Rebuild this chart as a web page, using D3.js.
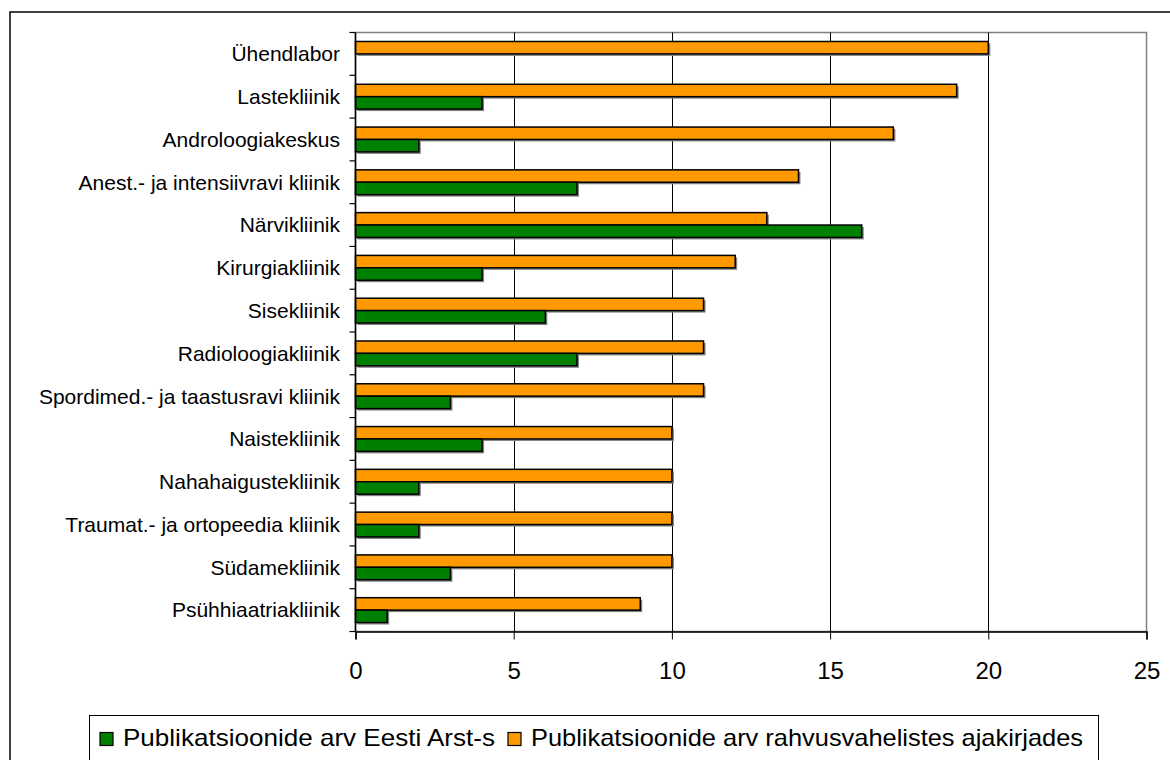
<!DOCTYPE html>
<html><head><meta charset="utf-8">
<script src="https://cdn.jsdelivr.net/npm/d3@7"></script>
<style>body{margin:0;background:#fff}svg{display:block;font-family:"Liberation Sans",Arial,sans-serif}</style>
</head><body>
<svg id="c" width="1170" height="760"></svg>
<script>
const categories = ["Ühendlabor","Lastekliinik","Androloogiakeskus","Anest.- ja intensiivravi kliinik","Närvikliinik","Kirurgiakliinik","Sisekliinik","Radioloogiakliinik","Spordimed.- ja taastusravi kliinik","Naistekliinik","Nahahaigustekliinik","Traumat.- ja ortopeedia kliinik","Südamekliinik","Psühhiaatriakliinik"];
const seriesNames = ["Publikatsioonide arv Eesti Arst-s","Publikatsioonide arv rahvusvahelistes ajakirjades"];
const eestiArst = [0,4,2,7,16,4,6,7,3,4,2,2,3,1];
const rahvusvaheline = [20,19,17,14,13,12,11,11,11,10,10,10,10,9];
const xTicks = [0,5,10,15,20,25];
const colors = ["#008000","#FF9900"];

const svg = d3.select("#c");
const L = 355.5, R = 1146.5, T = 32.5, B = 631.5;
svg.append("rect").attr("x",10).attr("y",12).attr("width",1200).attr("height",800)
  .attr("fill","#fff").attr("stroke","#000").attr("stroke-width",1.5);

const x = d3.scaleLinear().domain([0,25]).range([L,R]);
const y = d3.scaleBand().domain(categories).range([T,B]).paddingInner(0.42).paddingOuter(0.21);
const ySub = d3.scaleBand().domain([1,0]).range([0,y.bandwidth()]);

// plot border
svg.append("rect").attr("x",L).attr("y",T).attr("width",R-L).attr("height",B-T)
  .attr("fill","none").attr("stroke","#808080").attr("stroke-width",1.5);
// gridlines
svg.append("g").selectAll("line").data(xTicks.filter(t=>t>0&&t<25)).join("line")
  .attr("x1",d=>Math.round(x(d))+0.5).attr("x2",d=>Math.round(x(d))+0.5)
  .attr("y1",T).attr("y2",B).attr("stroke","#000").attr("stroke-width",1);

const data = categories.map((c,i)=>({c, v:[eestiArst[i], rahvusvaheline[i]]}));
const g = svg.append("g");
data.forEach(d=>{
  [1,0].forEach(s=>{
    if (d.v[s] <= 0) return;
    g.append("rect")
      .attr("x",x(0)+2).attr("y",y(d.c)+ySub(s)+2)
      .attr("width",x(d.v[s])-x(0)).attr("height",ySub.bandwidth())
      .attr("fill","#808080");
  });
});
data.forEach(d=>{
  [1,0].forEach(s=>{
    if (d.v[s] <= 0) return;
    g.append("rect")
      .attr("x",x(0)).attr("y",y(d.c)+ySub(s))
      .attr("width",x(d.v[s])-x(0)).attr("height",ySub.bandwidth())
      .attr("fill",colors[s]).attr("stroke","#000").attr("stroke-width",1.5);
  });
});

// left axis with category ticks at band boundaries
const step = (B-T)/categories.length;
const la = svg.append("g");
la.append("line").attr("x1",L).attr("x2",L).attr("y1",T).attr("y2",B).attr("stroke","#000").attr("stroke-width",1.5);
d3.range(categories.length+1).forEach(i=>{
  la.append("line").attr("x1",L-6).attr("x2",L).attr("y1",T+i*step).attr("y2",T+i*step).attr("stroke","#000").attr("stroke-width",1.2);
});
la.selectAll("text").data(categories).join("text")
  .attr("x",340).attr("y",d=>y(d)-y.step()*y.paddingInner()/2+step/2)
  .attr("dy","0.35em").attr("text-anchor","end").attr("font-size",21).attr("fill","#000").text(d=>d);

// bottom axis
const xa = d3.axisBottom(x).tickValues(xTicks).tickSize(8).tickPadding(22);
const ba = svg.append("g").attr("transform",`translate(0,${B})`).call(xa);
ba.select(".domain").attr("stroke","#000").attr("stroke-width",1.5);
ba.selectAll(".tick line").attr("stroke","#000");
ba.selectAll("text").attr("font-size",24).attr("fill","#000").attr("font-family","Liberation Sans, Arial, sans-serif");

// legend
const lg = svg.append("g");
lg.append("rect").attr("x",89.5).attr("y",715.5).attr("width",1009).attr("height",60)
  .attr("fill","#fff").attr("stroke","#000").attr("stroke-width",1);
const legX = [100, 508];
const legW = [372, 552];
seriesNames.forEach((n,i)=>{
  lg.append("rect").attr("x",legX[i]).attr("y",732.5).attr("width",13).attr("height",13)
    .attr("fill",colors[i]).attr("stroke","#000").attr("stroke-width",1.2);
  lg.append("text").attr("x",legX[i]+23).attr("y",746).attr("font-size",24)
    .attr("textLength",legW[i]).attr("lengthAdjust","spacingAndGlyphs").attr("fill","#000").text(n);
});
</script>
</body></html>
